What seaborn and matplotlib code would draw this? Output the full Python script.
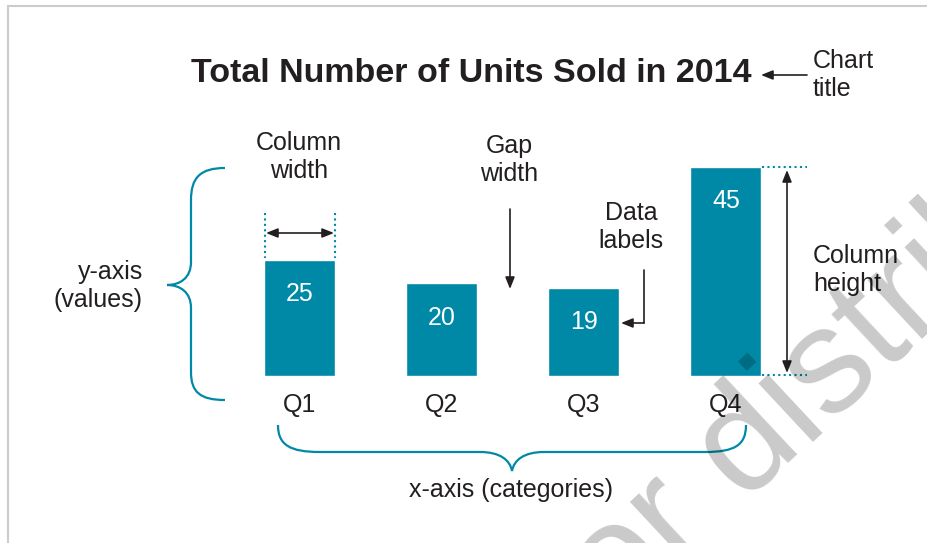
import matplotlib
matplotlib.use('Agg')
import matplotlib.pyplot as plt
import matplotlib.transforms as mtransforms
from matplotlib.path import Path
from matplotlib.patches import PathPatch, FancyArrowPatch
from matplotlib.lines import Line2D
import seaborn as sns
import pandas as pd

# ---- data ----
quarters = ['Q1', 'Q2', 'Q3', 'Q4']
units = [25, 20, 19, 45]
chart_title = 'Total Number of Units Sold in 2014'

TEAL = '#0089A6'
INK = '#231F20'
W, H = 928, 543

sns.set_theme(style='white')
plt.rcParams['font.family'] = ['Liberation Sans', 'DejaVu Sans']

fig = plt.figure(figsize=(W / 100, H / 100), dpi=100)
fig.patch.set_facecolor('white')

# pixel transform (x from left, y from top)
px = mtransforms.Affine2D().scale(1 / W, -1 / H).translate(0, 1) + fig.transFigure

ax = fig.add_axes([229 / W, (H - 376) / H, 568 / W, 232.5 / H])
df = pd.DataFrame({'quarter': quarters, 'units': units})
sns.barplot(data=df, x='quarter', y='units', color=TEAL, width=0.5,
            saturation=1, ax=ax)
ax.set_xlim(-0.5, 3.5)
ax.set_ylim(0, 50)
sns.despine(ax=ax, left=True, bottom=True)
ax.set_yticks([])
ax.set_xlabel('')
ax.set_ylabel('')
ax.tick_params(axis='x', length=0, pad=12, labelsize=18, labelcolor=INK)
ax.patch.set_alpha(0)

for i, v in enumerate(units):
    ax.annotate(str(v), xy=(i, v), xytext=(0, -25), textcoords='offset points',
                ha='center', va='center', color='white', fontsize=18)

# ---- frame ----
fig.add_artist(Line2D([8, W], [6, 6], transform=px, color='#cccccc', lw=1.5))
fig.add_artist(Line2D([8, 8], [6, H], transform=px, color='#cccccc', lw=1.5))

# ---- texts ----
def t(x, y, s, **kw):
    base = dict(transform=px, fontsize=18, color=INK, va='center', ha='center',
                linespacing=1.2)
    base.update(kw)
    fig.text(x, y, s, **base)

t(471, 73, chart_title, fontsize=24.5, weight='bold')
t(813, 75, 'Chart\ntitle', ha='left')
t(299, 157, 'Column\nwidth')
t(509, 160, 'Gap\nwidth')
t(631, 227, 'Data\nlabels')
t(143, 286, 'y-axis\n(values)', ha='right', multialignment='right')
t(813, 270, 'Column\nheight', ha='left')
t(511, 490, 'x-axis (categories)')

# ---- arrows ----
def arrow(a, b, style='-|>'):
    fig.add_artist(FancyArrowPatch(a, b, transform=px,
                                   arrowstyle=style + ',head_length=0.5,head_width=0.2',
                                   mutation_scale=14, lw=1.2, color=INK,
                                   shrinkA=0, shrinkB=0))

arrow((807, 75), (761, 75))
arrow((266, 233), (334, 233), '<|-|>')
arrow((510, 209), (510, 289))
fig.add_artist(Line2D([644, 644], [270, 323], transform=px, color=INK, lw=1.2))
arrow((644, 323), (621, 323))
arrow((787, 170), (787, 373), '<|-|>')

# ---- dotted guides ----
def dots(xs, ys):
    fig.add_artist(Line2D(xs, ys, transform=px, color=TEAL, lw=1.5,
                          linestyle=(0, (1, 1.6)), dash_capstyle='butt'))

dots([265, 265], [213, 258])
dots([335, 335], [213, 258])
dots([762, 807], [167, 167])
dots([762, 807], [375, 375])

# ---- braces ----
def brace(verts, codes):
    fig.add_artist(PathPatch(Path(verts, codes), transform=px, fill=False,
                             edgecolor=TEAL, lw=1.6))

M, L, C = Path.MOVETO, Path.LINETO, Path.CURVE4
brace([(225, 168), (200, 168), (191, 178), (191, 200), (191, 262),
       (191, 278), (180, 285), (167, 285),
       (180, 285), (191, 292), (191, 308), (191, 372),
       (191, 392), (200, 400), (225, 400)],
      [M, C, C, C, L, C, C, C, C, C, C, L, C, C, C])
brace([(278, 425), (278, 445), (290, 452), (320, 452), (480, 452),
       (500, 452), (510, 460), (512, 471),
       (514, 460), (524, 452), (544, 452), (705, 452),
       (735, 452), (746, 445), (746, 425)],
      [M, C, C, C, L, C, C, C, C, C, C, L, C, C, C])

# ---- watermark ----
fig.text(586, 652, 'for distribution', transform=px, rotation=43,
         rotation_mode='anchor', ha='left', va='baseline', fontsize=108,
         color='black', alpha=0.21, zorder=10)

fig.savefig('out.png', dpi=100)
